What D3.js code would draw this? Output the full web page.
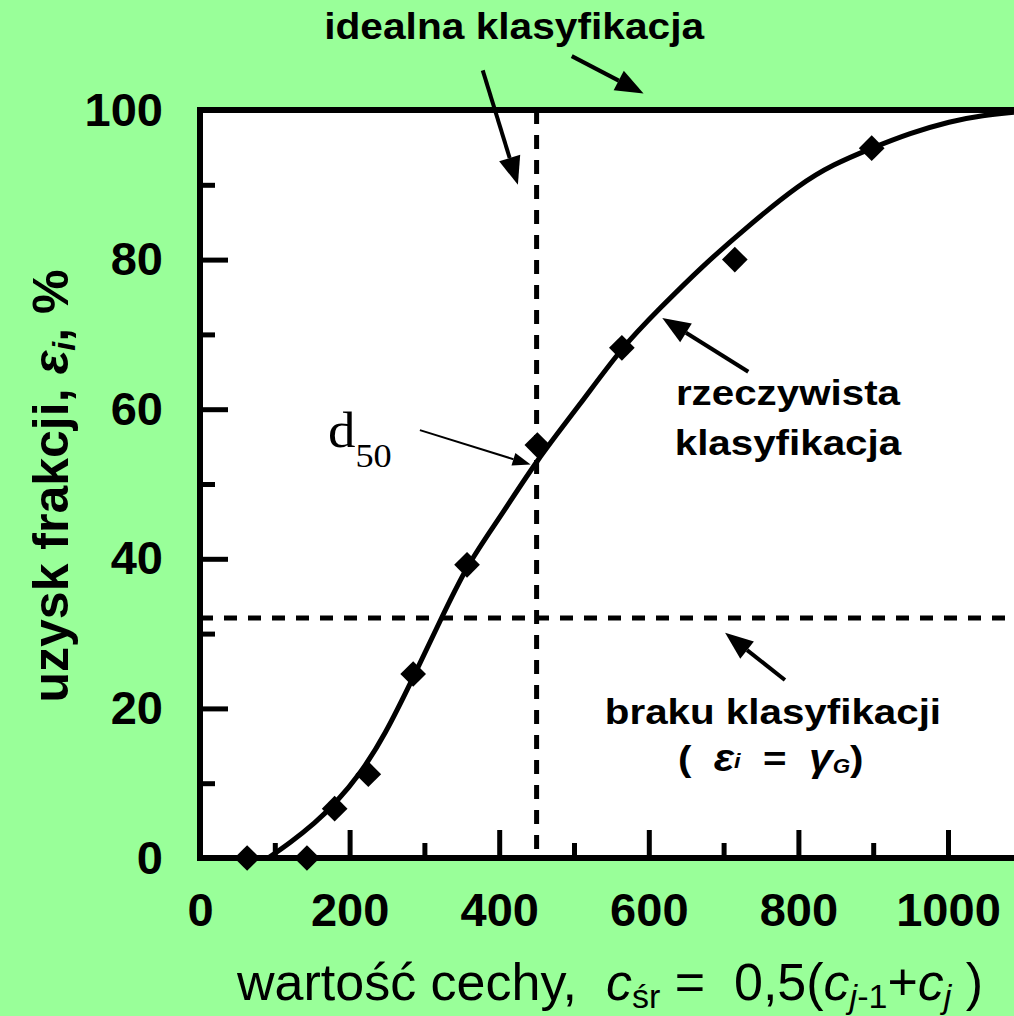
<!DOCTYPE html>
<html>
<head>
<meta charset="utf-8">
<script src="https://cdn.jsdelivr.net/npm/d3@7"></script>
<style>
  html, body { margin: 0; padding: 0; background: #99ff99; }
  svg { display: block; font-family: "Liberation Sans", Arial, sans-serif; }
  text { white-space: pre; }
</style>
</head>
<body>
<div id="chart"></div>
<script>
// measured points (diamonds)
const pointX = [63, 143, 180, 225, 285, 357, 451, 564, 715, 898];
const pointY = [0, 0, 6.6, 11.2, 24.6, 39.2, 55.2, 68.2, 80.0, 94.9];

// fitted curve
const curveX = [91, 120, 154, 180, 214, 247, 285, 321, 357, 401, 450, 508, 564, 615, 668, 735, 802, 846, 898, 949, 1003, 1047, 1088];
const curveY = [0, 2.0, 4.7, 7.2, 11.2, 16.4, 24.1, 31.7, 39.2, 45.5, 53.2, 60.6, 68.3, 73.5, 78.8, 84.7, 90.1, 92.7, 94.9, 96.9, 98.5, 99.3, 99.7];

const xTickValues = [0, 200, 400, 600, 800, 1000];
const xMinorTicks = [100, 300, 500, 700, 900];
const yTickValues = [0, 20, 40, 60, 80, 100];
const yMinorTicks = [10, 30, 50, 70, 90];

const d50 = 450;        // vertical dashed line
const noSplit = 32.1;   // horizontal dashed line (gamma_G)

const width = 1014, height = 1016;

const x = d3.scaleLinear().domain([0, 1000]).range([200, 948]);
const y = d3.scaleLinear().domain([0, 100]).range([858, 110]);

const svg = d3.select('#chart').append('svg')
  .attr('width', width)
  .attr('height', height);

svg.append('rect').attr('width', width).attr('height', height).attr('fill', '#99ff99');

svg.append('defs').append('clipPath').attr('id', 'plot-clip')
  .append('rect')
  .attr('x', x(0)).attr('y', y(100))
  .attr('width', width - x(0) + 20).attr('height', y(0) - y(100));

// plot area
svg.append('rect')
  .attr('x', x(0)).attr('y', y(100))
  .attr('width', width - x(0) + 20).attr('height', y(0) - y(100))
  .attr('fill', '#fff');

// dashed reference lines
svg.append('line')
  .attr('x1', x(0)).attr('x2', width)
  .attr('y1', y(noSplit)).attr('y2', y(noSplit))
  .attr('stroke', '#000').attr('stroke-width', 5)
  .attr('stroke-dasharray', '13,11');

svg.append('line')
  .attr('x1', x(d50)).attr('x2', x(d50))
  .attr('y1', y(100)).attr('y2', y(0))
  .attr('stroke', '#000').attr('stroke-width', 5)
  .attr('stroke-dasharray', '14,11');

// axes
const yMajor = svg.append('g')
  .attr('class', 'y-axis')
  .attr('transform', `translate(${x(0)},0)`)
  .call(d3.axisLeft(y).tickValues(yTickValues).tickSize(-28).tickSizeOuter(0).tickPadding(37));
const yMinor = svg.append('g')
  .attr('transform', `translate(${x(0)},0)`)
  .call(d3.axisLeft(y).tickValues(yMinorTicks).tickSize(-15).tickSizeOuter(0).tickFormat(''));

const xMajor = svg.append('g')
  .attr('class', 'x-axis')
  .attr('transform', `translate(0,${y(0)})`)
  .call(d3.axisBottom(x).tickValues(xTickValues).tickSize(-28).tickSizeOuter(0).tickPadding(35).tickFormat(d3.format('d')));
const xMinor = svg.append('g')
  .attr('transform', `translate(0,${y(0)})`)
  .call(d3.axisBottom(x).tickValues(xMinorTicks).tickSize(-15).tickSizeOuter(0).tickFormat(''));

[yMajor, yMinor, xMajor, xMinor].forEach(g => {
  g.select('.domain').remove();
  g.selectAll('.tick line').attr('stroke', '#000').attr('stroke-width', 5);
});
[yMajor, xMajor].forEach(g => {
  g.selectAll('.tick text')
    .attr('fill', '#000')
    .style('font-size', '47px')
    .style('font-weight', 'bold');
});

// frame: left, bottom, top (right side runs off the picture)
svg.append('path')
  .attr('d', `M${width + 10},${y(100)}H${x(0)}V${y(0)}H${width + 10}`)
  .attr('fill', 'none').attr('stroke', '#000').attr('stroke-width', 6);

// fitted curve
const curveData = curveX.map((v, i) => [v, curveY[i]]);
svg.append('path')
  .datum(curveData)
  .attr('clip-path', 'url(#plot-clip)')
  .attr('fill', 'none')
  .attr('stroke', '#000')
  .attr('stroke-width', 5)
  .attr('d', d3.line().x(d => x(d[0])).y(d => y(d[1])).curve(d3.curveBasis));

// diamonds
const diamond = d3.symbol().type(d3.symbolSquare).size(330);
svg.selectAll('.pt')
  .data(pointX.map((v, i) => [v, pointY[i]]))
  .enter().append('path')
  .attr('class', 'pt')
  .attr('d', diamond)
  .attr('transform', d => `translate(${x(d[0])},${y(d[1])}) rotate(45)`)
  .attr('fill', '#000');

// arrows
function arrow(x1, y1, x2, y2, lw, hl, hw) {
  const X1 = x(x1), Y1 = y(y1), X2 = x(x2), Y2 = y(y2);
  const a = Math.atan2(Y2 - Y1, X2 - X1);
  const bx = X2 - hl * Math.cos(a), by = Y2 - hl * Math.sin(a);
  svg.append('line')
    .attr('x1', X1).attr('y1', Y1).attr('x2', bx).attr('y2', by)
    .attr('stroke', '#000').attr('stroke-width', lw);
  const px = -Math.sin(a) * hw / 2, py = Math.cos(a) * hw / 2;
  svg.append('path')
    .attr('d', `M${X2},${Y2}L${bx + px},${by + py}L${bx - px},${by - py}Z`)
    .attr('fill', '#000');
}
arrow(378, 105.3, 425, 90.0, 4, 28, 22);
arrow(497, 107.2, 593, 102.2, 4, 28, 22);
arrow(733, 65.0, 618, 72.2, 4, 28, 22);
arrow(782, 23.8, 702, 30.1, 4, 28, 22);
arrow(294, 57.2, 442, 52.6, 2, 18, 13);

// text helper, slightly widened like the picture
function label(px, py, size, weight, anchor, sx) {
  return svg.append('g')
    .attr('transform', `translate(${px},${py}) scale(${sx || 1},1)`)
    .append('text')
    .attr('text-anchor', anchor || 'middle')
    .style('font-size', size + 'px')
    .style('font-weight', weight || 'bold')
    .attr('fill', '#000');
}

label(x(420), 39, 36, 'bold', 'middle', 1.13).text('idealna klasyfikacja');
label(x(786), 405, 36, 'bold', 'middle', 1.12).text('rzeczywista');
label(x(786), 455, 36, 'bold', 'middle', 1.12).text('klasyfikacja');
label(x(766), 724, 36, 'bold', 'middle', 1.12).text('braku klasyfikacji');

const gam = label(x(763), 771, 36, 'bold', 'middle', 1.12);
gam.append('tspan').text('(  ');
gam.append('tspan').style('font-style', 'italic').style('font-size', '38px').text('\u03b5');
gam.append('tspan').style('font-style', 'italic').style('font-size', '21px').attr('dy', -3).text('i');
gam.append('tspan').attr('dy', 3).text('  =  ');
gam.append('tspan').style('font-style', 'italic').style('font-size', '38px').text('\u03b3');
gam.append('tspan').style('font-style', 'italic').style('font-size', '20px').attr('dy', 2).text('G');
gam.append('tspan').attr('dy', -2).text(')');

// d50 label
const dl = label(x(171), 447, 50, 'normal', 'start', 1.1)
  .style('font-family', '"Liberation Serif", "Times New Roman", serif');
dl.append('tspan').text('d');
dl.append('tspan').style('font-size', '33px').attr('dy', 20).text('50');

// x-axis title
const xt = label(237, 1000, 52, 'normal', 'start', 1);
xt.append('tspan').text('warto\u015b\u0107 cechy,  ');
xt.append('tspan').style('font-style', 'italic').text('c');
xt.append('tspan').style('font-size', '34px').attr('dy', 8).text('\u015br');
xt.append('tspan').attr('dy', -8).text(' =  0,5(');
xt.append('tspan').style('font-style', 'italic').text('c');
xt.append('tspan').style('font-style', 'italic').style('font-size', '34px').attr('dy', 8).text('j');
xt.append('tspan').style('font-size', '34px').text('-1');
xt.append('tspan').attr('dy', -8).text('+');
xt.append('tspan').style('font-style', 'italic').text('c');
xt.append('tspan').style('font-style', 'italic').style('font-size', '34px').attr('dy', 8).text('j');
xt.append('tspan').attr('dy', -8).text(' )');

// y-axis title
const yt = svg.append('text')
  .attr('transform', 'translate(68,486) rotate(-90)')
  .attr('text-anchor', 'middle')
  .style('font-size', '50px')
  .style('font-weight', 'bold')
  .attr('fill', '#000');
yt.append('tspan').text('uzysk frakcji, ');
yt.append('tspan').style('font-style', 'italic').text('\u03b5');
yt.append('tspan').style('font-style', 'italic').style('font-size', '32px').attr('dy', 7).text('i');
yt.append('tspan').attr('dy', -7).text(', %');
</script>
</body>
</html>
